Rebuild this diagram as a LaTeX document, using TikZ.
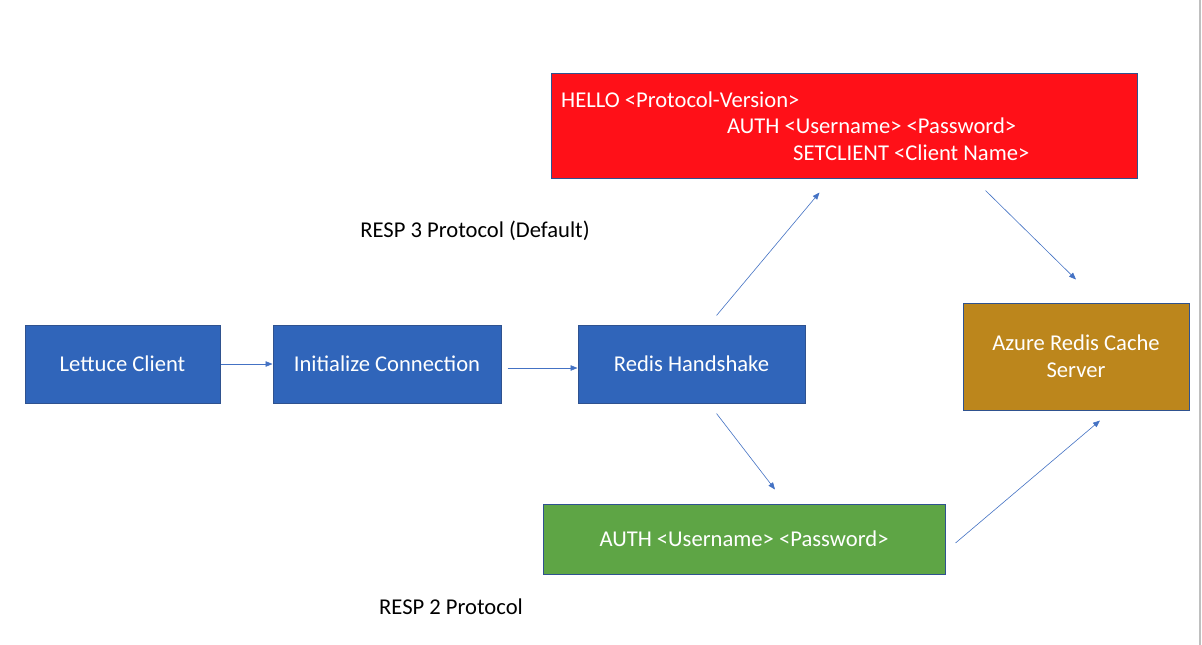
\documentclass[tikz,border=0pt]{standalone}
\usepackage{fontspec}
\setmainfont{Carlito}
\usetikzlibrary{arrows.meta,calc}
\definecolor{boxblue}{HTML}{3065BA}
\definecolor{edgeblue}{HTML}{2F528F}
\definecolor{boxred}{HTML}{FF1018}
\definecolor{boxgold}{HTML}{BC861C}
\definecolor{boxgreen}{HTML}{5EA545}
\definecolor{linkblue}{HTML}{4472C4}
\begin{document}
\begin{tikzpicture}[x=1pt,y=-1pt,
  box/.style={draw=edgeblue,line width=1pt,rectangle,inner sep=0pt,text=white,font=\fontsize{22.6}{27}\selectfont,align=center},
  boxtext/.style={text=white,inner sep=0pt,anchor=west,font=\fontsize{22.6}{27}\selectfont},
  lbl/.style={text=black,inner sep=0pt,font=\fontsize{22.6}{27}\selectfont},
  link/.style={draw=linkblue,line width=0.6pt,-{Triangle[length=7pt,width=5.5pt]}}]
\useasboundingbox (0,0) rectangle (1202,645);
\fill[white] (0,0) rectangle (1202,645);
\draw[color=black!25,line width=2pt] (1200,0) -- (1200,645);

\node[box,fill=boxblue,minimum width=195pt,minimum height=78pt] (lettuce) at (122.5,364) {Lettuce Client};
\node[box,fill=boxblue,minimum width=228pt,minimum height=78pt] (init) at (387,364) {Initialize Connection};
\node[box,fill=boxblue,minimum width=227pt,minimum height=78pt] (redis) at (691.5,364) {Redis Handshake};
\node[box,fill=boxred,minimum width=586pt,minimum height=105pt] (hello) at (844,125.5) {};
\node[boxtext] (t1) at (561,100) {HELLO <Protocol-Version>};
\node[boxtext] (t2) at (727,126) {AUTH <Username> <Password>};
\node[boxtext] (t3) at (793,153) {SETCLIENT <Client Name>};
\node[box,fill=boxgold,minimum width=226pt,minimum height=107pt] (azure) at (1076,356.5) {Azure Redis Cache\\Server};
\node[box,fill=boxgreen,minimum width=402pt,minimum height=70pt] (auth) at (744,539) {AUTH <Username> <Password>};

\node[lbl] (resp3) at (475,231) {RESP 3 Protocol (Default)};
\node[lbl] (resp2) at (451,607) {RESP 2 Protocol};

\coordinate (a1s) at ($(init.east)+(6,4)$);
\coordinate (a1e) at ($(redis.west)+(0,4)$);
\coordinate (a2s) at ($(redis.north)+(25,-9)$);
\coordinate (a2e) at ($(hello.south west)+(269,14)$);
\coordinate (a3s) at ($(hello.south west)+(435,12)$);
\coordinate (a3e) at ($(azure.north)+(0,-23)$);
\coordinate (a4s) at ($(redis.south)+(25,10)$);
\coordinate (a4e) at ($(auth.north)+(31,-14)$);
\coordinate (a5s) at ($(auth.east)+(10,4)$);
\coordinate (a5e) at ($(azure.south)+(24,10)$);

\draw[link] (lettuce.east) -- (init.west);
\draw[link] (a1s) -- (a1e);
\draw[link] (a2s) -- (a2e);
\draw[link] (a3s) -- (a3e);
\draw[link] (a4s) -- (a4e);
\draw[link] (a5s) -- (a5e);
\end{tikzpicture}
\end{document}
